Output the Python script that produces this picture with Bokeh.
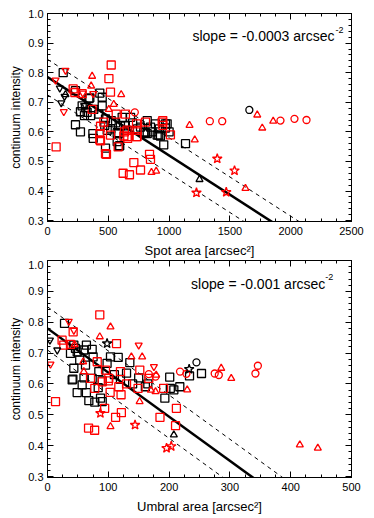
from bokeh.plotting import figure
from bokeh.layouts import column
from bokeh.models import (LinearAxis, Label, Range1d, SingleIntervalTicker, PrintfTickFormatter,
                          CustomJSTickFormatter)
from bokeh.embed import file_html
from bokeh.resources import INLINE

# ---------------- Top panel: spot area vs continuum intensity ----------------
spot_bsq_x = [129, 285, 312, 271, 326, 304, 381, 450, 354, 422, 430, 450, 340, 614, 683, 477, 524, 230, 271, 373,
              471, 765, 847, 888, 970, 915, 820, 586, 376, 477, 573, 594, 806, 929, 956, 1135, 1000, 491, 573, 586,
              655, 792, 902, 984, 820, 970, 230, 348, 560, 600, 700, 740, 860, 920, 640, 520]
spot_bsq_y = [0.800, 0.688, 0.682, 0.668, 0.666, 0.655, 0.676, 0.688, 0.655, 0.660, 0.731, 0.717, 0.712, 0.649, 0.649,
              0.644, 0.638, 0.624, 0.600, 0.594, 0.622, 0.616, 0.616, 0.627, 0.613, 0.589, 0.594, 0.594, 0.578, 0.545,
              0.597, 0.553, 0.597, 0.586, 0.556, 0.560, 0.600, 0.605, 0.567, 0.551, 0.605, 0.600, 0.589, 0.627, 0.638,
              0.627, 0.739, 0.715, 0.630, 0.620, 0.630, 0.610, 0.600, 0.610, 0.620, 0.610]
spot_rsq_x = [524, 505, 518, 211, 225, 285, 565, 641, 367, 463, 436, 518, 655, 655, 732, 732, 806, 943, 71, 436,
              477, 581, 628, 660, 839, 847, 710, 765, 622, 674, 1011, 948, 948, 430, 430, 485, 633, 737, 737]
spot_rsq_y = [0.826, 0.780, 0.734, 0.745, 0.733, 0.729, 0.660, 0.660, 0.676, 0.633, 0.619, 0.589, 0.606, 0.584, 0.627,
              0.584, 0.633, 0.633, 0.549, 0.570, 0.526, 0.549, 0.586, 0.578, 0.524, 0.507, 0.496, 0.471, 0.460, 0.455,
              0.590, 0.638, 0.622, 0.594, 0.573, 0.524, 0.600, 0.605, 0.584]
spot_rtri_x = [367, 359, 606, 545, 504, 1168, 1211, 1766, 1628, 1856, 1725, 855, 894]
spot_rtri_y = [0.788, 0.755, 0.726, 0.693, 0.676, 0.622, 0.573, 0.613, 0.409, 0.636, 0.657, 0.463, 0.467]
spot_btri_x = [1250, 148]
spot_btri_y = [0.439, 0.726]
spot_binv_x = [101, 140, 113]
spot_binv_y = [0.748, 0.720, 0.698]
spot_rinv_x = [66, 148, 290, 376, 134]
spot_rinv_y = [0.775, 0.808, 0.731, 0.729, 0.668]
spot_rcirc_x = [718, 1335, 1437, 1916, 2031, 2130]
spot_rcirc_y = [0.666, 0.636, 0.636, 0.638, 0.644, 0.640]
spot_bcirc_x = [1660]
spot_bcirc_y = [0.674]
spot_rstar_x = [1396, 1538, 1225, 1470]
spot_rstar_y = [0.509, 0.469, 0.394, 0.396]
spot_bstar_x = [310]
spot_bstar_y = [0.690]
spot_fit = [0.785, -0.000265]       # intercept, slope
spot_band = 0.06

# ---------------- Bottom panel: umbral area vs continuum intensity ----------------
umb_bsq_x = [28, 43.3, 37.8, 48.8, 59.7, 73.5, 75, 53, 62.5, 43.3, 103.6, 116.3, 98, 135.4, 84.4, 41.7, 73.5, 64,
             46, 201, 233.6, 253.3, 217.6, 202, 40.6, 57, 64, 68, 77.8, 87.2, 90, 83.4, 193, 207.8, 161, 48.8,
             60, 90, 120, 140, 150, 165, 110, 130]
umb_bsq_y = [0.796, 0.726, 0.699, 0.704, 0.710, 0.712, 0.688, 0.677, 0.661, 0.651, 0.688, 0.686, 0.667, 0.669,
             0.640, 0.616, 0.618, 0.726, 0.715, 0.622, 0.626, 0.634, 0.591, 0.586, 0.613, 0.597, 0.572, 0.546, 0.541,
             0.554, 0.543, 0.588, 0.554, 0.581, 0.591, 0.572, 0.620, 0.610, 0.615, 0.600, 0.620, 0.600, 0.630, 0.635]
umb_rsq_x = [86, 42.2, 24, 26.8, 37.8, 113.5, 81.8, 151.8, 120, 166.6, 95.4, 100.8, 70.7, 90, 191, 13.2, 77.8,
             103, 121, 94, 112, 121.5, 67.5, 77.5, 185, 212, 210.6, 149, 117.3, 100, 130]
umb_rsq_y = [0.824, 0.769, 0.742, 0.726, 0.728, 0.731, 0.672, 0.645, 0.640, 0.618, 0.645, 0.618, 0.618, 0.607,
             0.586, 0.543, 0.586, 0.573, 0.565, 0.521, 0.492, 0.507, 0.457, 0.450, 0.492, 0.521, 0.465, 0.586,
             0.591, 0.610, 0.600]
umb_rtri_x = [103.6, 86, 44.4, 138, 155.7, 178.8, 285.7, 302.2, 58.7, 59.7, 103.6, 151.5, 170, 177.7, 229.8, 415, 444.6]
umb_rtri_y = [0.785, 0.753, 0.728, 0.688, 0.688, 0.629, 0.651, 0.618, 0.672, 0.640, 0.462, 0.543, 0.580, 0.575,
              0.581, 0.403, 0.392]
umb_rinv_x = [35, 43.3, 150, 4.9, 175]
umb_rinv_y = [0.803, 0.774, 0.726, 0.664, 0.656]
umb_binv_x = [4, 16]
umb_binv_y = [0.742, 0.710]
umb_btri_x = [207.8]
umb_btri_y = [0.435]
umb_rcirc_x = [218, 228.5, 275, 281.8, 346, 342, 166.6, 177.7]
umb_rcirc_y = [0.640, 0.633, 0.634, 0.629, 0.659, 0.634, 0.632, 0.624]
umb_bcirc_x = [245]
umb_bcirc_y = [0.670]
umb_rstar_x = [87, 144, 195.8, 203.5]
umb_rstar_y = [0.505, 0.467, 0.392, 0.398]
umb_bstar_x = [98, 233]
umb_bstar_y = [0.731, 0.648]
umb_fit = [0.78, -0.00143]
umb_band = 0.07

FONT = "Liberation Sans"
RED = "#ff0000"


def make_panel(height, border_top, border_bottom, xmax, xint, xlabel):
    p = figure(width=374, height=height, output_backend="svg", toolbar_location=None,
               x_range=Range1d(0, xmax), y_range=Range1d(0.297, 1.0),
               min_border_left=47, min_border_right=23,
               min_border_top=border_top, min_border_bottom=border_bottom,
               x_axis_label=xlabel, y_axis_label="continuum intensity")
    p.grid.visible = False
    p.outline_line_color = "black"
    p.outline_line_width = 1
    p.background_fill_color = "white"
    p.border_fill_color = "white"
    xt = SingleIntervalTicker(interval=xint, num_minor_ticks=4)
    yt = SingleIntervalTicker(interval=0.1, num_minor_ticks=5)
    p.xaxis.ticker = xt
    p.yaxis.ticker = yt
    p.yaxis.formatter = PrintfTickFormatter(format="%.1f")
    for side, tick in (("right", yt), ("above", xt)):
        ax = LinearAxis(ticker=tick, formatter=CustomJSTickFormatter(code="return ''"),
                        major_label_standoff=0, axis_label=None)
        p.add_layout(ax, side)
    for ax in p.axis:
        ax.major_tick_in = 6
        ax.major_tick_out = 0
        ax.minor_tick_in = 3
        ax.minor_tick_out = 0
        ax.axis_line_color = "black"
        ax.major_tick_line_color = "black"
        ax.minor_tick_line_color = "black"
        ax.major_label_text_font = FONT
        ax.major_label_text_color = "black"
        ax.axis_label_text_font = FONT
        ax.axis_label_text_font_style = "normal"
        ax.axis_label_text_color = "black"
    for ax in (p.xaxis[0], p.yaxis[0]):
        ax.major_label_text_font_size = "11px"
        ax.major_label_standoff = 4
        ax.axis_label_standoff = 2
    p.xaxis[0].major_label_standoff = 4
    p.xaxis[0].axis_label_standoff = -7
    p.xaxis[0].axis_label_text_font_size = "13px"
    p.yaxis[0].axis_label_text_font_size = "12px"
    return p


def draw_fit(p, xmax, fit, band):
    xs = [0, xmax]
    p.line(xs, [fit[0] + fit[1] * v for v in xs], line_color="black", line_width=2.5)
    for off in (band, -band):
        p.line(xs, [fit[0] + off + fit[1] * v for v in xs], line_color="black", line_width=1,
               line_dash="4 4")


def pts(p, x, y, marker, color, size):
    p.scatter(x, y, marker=marker, size=size, line_color=color, fill_color=None, line_width=1.3)


def slope_text(p, x_main, x_sup, y_main, y_sup, txt):
    p.add_layout(Label(x=x_main, y=y_main, text=txt, text_align="right", text_baseline="alphabetic",
                       text_font=FONT, text_font_size="14px", text_color="black"))
    p.add_layout(Label(x=x_sup, y=y_sup, text="-2", text_align="right", text_baseline="alphabetic",
                       text_font=FONT, text_font_size="9px", text_color="black"))


p1 = make_panel(260, 13, 33, 2500, 500, "Spot area [arcsec²]")
draw_fit(p1, 2500, spot_fit, spot_band)
pts(p1, spot_bsq_x, spot_bsq_y, "square", "black", 8)
pts(p1, spot_rsq_x, spot_rsq_y, "square", RED, 8)
pts(p1, spot_rtri_x, spot_rtri_y, "triangle", RED, 7)
pts(p1, spot_btri_x, spot_btri_y, "triangle", "black", 7)
pts(p1, spot_binv_x, spot_binv_y, "inverted_triangle", "black", 7)
pts(p1, spot_rinv_x, spot_rinv_y, "inverted_triangle", RED, 7)
pts(p1, spot_rcirc_x, spot_rcirc_y, "circle", RED, 7)
pts(p1, spot_bcirc_x, spot_bcirc_y, "circle", "black", 7)
pts(p1, spot_rstar_x, spot_rstar_y, "star", RED, 10)
pts(p1, spot_bstar_x, spot_bstar_y, "star", "black", 10)
slope_text(p1, 2360, 2434, 0.925, 0.944, "slope = -0.0003 arcsec")

p2 = make_panel(258, 0, 41, 500, 100, "Umbral area [arcsec²]")
draw_fit(p2, 500, umb_fit, umb_band)
pts(p2, umb_bsq_x, umb_bsq_y, "square", "black", 8)
pts(p2, umb_rsq_x, umb_rsq_y, "square", RED, 8)
pts(p2, umb_rtri_x, umb_rtri_y, "triangle", RED, 7)
pts(p2, umb_btri_x, umb_btri_y, "triangle", "black", 7)
pts(p2, umb_binv_x, umb_binv_y, "inverted_triangle", "black", 7)
pts(p2, umb_rinv_x, umb_rinv_y, "inverted_triangle", RED, 7)
pts(p2, umb_rcirc_x, umb_rcirc_y, "circle", RED, 7)
pts(p2, umb_bcirc_x, umb_bcirc_y, "circle", "black", 7)
pts(p2, umb_rstar_x, umb_rstar_y, "star", RED, 10)
pts(p2, umb_bstar_x, umb_bstar_y, "star", "black", 10)
slope_text(p2, 457, 470, 0.923, 0.945, "slope = -0.001 arcsec")

layout = column(p1, p2, spacing=0)
open("out.html", "w").write(file_html(layout, INLINE))
